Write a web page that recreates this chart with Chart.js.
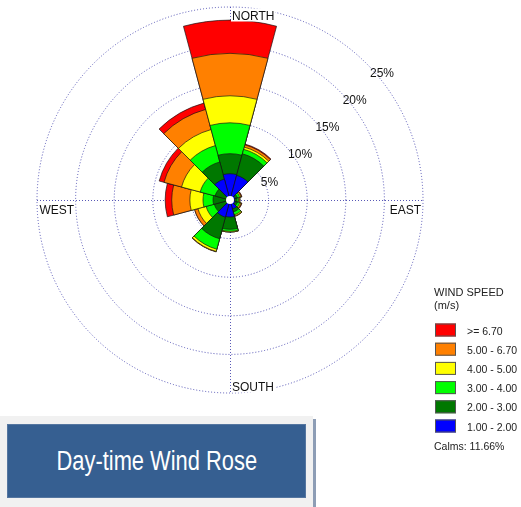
<!DOCTYPE html>
<html>
<head>
<meta charset="utf-8">
<script src="https://cdn.jsdelivr.net/npm/chart.js@4.4.1/dist/chart.umd.min.js"></script>
<style>
  html, body { margin: 0; padding: 0; background: #ffffff; }
  #wrap { position: relative; width: 521px; height: 507px; overflow: hidden; }
  #rose { position: absolute; left: 0; top: 0; }
  #titleOuter {
    position: absolute; left: 0; top: 416px; width: 313px; height: 95px;
    background: #f1f1f1; box-shadow: 3px 3px 0 #8d9db5;
  }
  #titleInner {
    position: absolute; left: 7px; top: 8px; width: 299px; height: 74px;
    background: #365f91; border: 1px solid #5576a0; box-sizing: border-box;
    display: flex; align-items: center; justify-content: center;
  }
  #titleInner span {
    display: inline-block; color: #ffffff; font-size: 27px;
    font-family: 'Liberation Sans', Arial, sans-serif;
    transform: scaleX(0.81); white-space: nowrap;
  }
</style>
</head>
<body>
<div id="wrap">
  <canvas id="rose" width="521" height="507"></canvas>
  <div id="titleOuter"><div id="titleInner"><span>Day-time Wind Rose</span></div></div>
</div>
<script>
// Direction sectors (degrees clockwise from north), 30° wide
const sectors = ['0°', '30°', '60°', '90°', '120°', '150°', '180°', '210°', '240°', '270°', '300°', '330°'];

// Frequency (%) of each wind speed class per sector
const speed_1_2   = [3.4, 3.3, 0.7, 0.6, 0.7, 1.2, 2.2, 2.3, 0.4, 0.4, 0.4, 2.8];
const speed_2_3   = [2.6, 2.9, 0.3, 0.3, 0.3, 0.4, 1.6, 2.9, 1.7, 1.8, 1.6, 2.3];
const speed_3_4   = [4.0, 0.6, 0.3, 0.2, 0.3, 0.4, 0.25, 1.4, 1.1, 1.3, 2.0, 2.2];
const speed_4_5   = [3.5, 0.3, 0.15, 0.1, 0.15, 0.15, 0.1, 0.3, 1.1, 1.7, 2.5, 2.15];
const speed_5_67  = [5.5, 0.3, 0.1, 0.1, 0.1, 0.05, 0.0, 0.05, 0.45, 2.35, 2.35, 2.7];
const speed_67_up = [4.3, 0.1, 0.05, 0.0, 0.05, 0.0, 0.0, 0.0, 0.0, 0.85, 0.65, 0.85];

const classLabels = ['1.00 - 2.00', '2.00 - 3.00', '3.00 - 4.00', '4.00 - 5.00', '5.00 - 6.70', '>= 6.70'];
const classColors = ['#0000ff', '#007800', '#00ff00', '#ffff00', '#ff8000', '#ff0000'];
const classSeries = [speed_1_2, speed_2_3, speed_3_4, speed_4_5, speed_5_67, speed_67_up];

// Ring values of the radial axis (%)
const ringTicks = [5, 10, 15, 20, 25];
const ringMax = 25;
const calmsPct = 11.66;
const compassLabels = ['NORTH', 'EAST', 'SOUTH', 'WEST'];

// Stack speed classes: each layer is drawn out to the running total
const running = sectors.map(() => 0);
const datasets = classSeries.map((series, i) => {
  const cum = series.map((v, k) => (running[k] += v, +running[k].toFixed(3)));
  return {
    label: classLabels[i],
    data: cum,
    backgroundColor: classColors[i],
    borderColor: 'rgba(20,20,20,0.85)',
    borderWidth: 0.8
  };
});

const FONT = "'Liberation Sans', Arial, sans-serif";
const gridColor = 'rgba(60,60,170,0.85)';

const roseDecor = {
  id: 'roseDecor',
  beforeDatasetsDraw(chart) {
    const r = chart.scales.r;
    const ctx = chart.ctx;
    const R = r.getDistanceFromCenterForValue(ringMax);
    ctx.save();
    ctx.strokeStyle = gridColor;
    ctx.lineWidth = 1;
    ctx.setLineDash([1, 2]);
    ctx.beginPath();
    ctx.moveTo(r.xCenter - R, r.yCenter + 0.5);
    ctx.lineTo(r.xCenter + R, r.yCenter + 0.5);
    ctx.moveTo(r.xCenter + 0.5, r.yCenter - R);
    ctx.lineTo(r.xCenter + 0.5, r.yCenter + R);
    ctx.stroke();
    ctx.restore();
  },
  afterDatasetsDraw(chart) {
    const r = chart.scales.r;
    const ctx = chart.ctx;
    const cx = r.xCenter, cy = r.yCenter;
    const R = r.getDistanceFromCenterForValue(ringMax);
    ctx.save();

    // calm centre
    ctx.fillStyle = '#ffffff';
    ctx.beginPath();
    ctx.arc(cx, cy, 4, 0, Math.PI * 2);
    ctx.fill();

    // ring percentages along the north-east diagonal
    ctx.font = '12px ' + FONT;
    ctx.fillStyle = '#111111';
    ctx.textAlign = 'left';
    ctx.textBaseline = 'alphabetic';
    ringTicks.forEach(v => {
      const d = r.getDistanceFromCenterForValue(v) * Math.SQRT1_2;
      ctx.fillText(v + '%', cx + d + 3.5, cy - d + 13);
    });

    // compass labels on white boxes
    const place = {
      NORTH: [cx + 2, cy - R + 12.5, 'left'],
      SOUTH: [cx + 2, cy + R - 2.5, 'left'],
      WEST:  [cx - R + 2.5, cy + 13.5, 'left'],
      EAST:  [cx + R - 2, cy + 13.5, 'right']
    };
    compassLabels.forEach(t => {
      const w = ctx.measureText(t).width;
      const [x, y, align] = place[t];
      const left = align === 'left' ? x : x - w;
      ctx.fillStyle = '#ffffff';
      ctx.fillRect(left - 1, y - 11, w + 2, 13);
      ctx.fillStyle = '#111111';
      ctx.textAlign = align;
      ctx.fillText(t, x, y);
    });

    // speed legend
    ctx.textAlign = 'left';
    ctx.fillStyle = '#222222';
    ctx.font = '11px ' + FONT;
    ctx.fillText('WIND SPEED', 434, 296);
    ctx.fillText('(m/s)', 434, 309);
    ctx.font = '10.5px ' + FONT;
    for (let i = classLabels.length - 1, row = 0; i >= 0; i--, row++) {
      const y = 323.5 + row * 19.2;
      ctx.fillStyle = classColors[i];
      ctx.fillRect(435, y, 21, 13);
      ctx.strokeStyle = '#555555';
      ctx.lineWidth = 1;
      ctx.strokeRect(435.5, y + 0.5, 20, 12);
      ctx.fillStyle = '#222222';
      ctx.fillText(classLabels[i], 467, y + 11);
    }
    ctx.fillText('Calms: ' + calmsPct.toFixed(2) + '%', 434, 450);
    ctx.restore();
  }
};

new Chart(document.getElementById('rose'), {
  type: 'polarArea',
  data: { labels: sectors, datasets },
  options: {
    responsive: false,
    animation: false,
    events: [],
    layout: { padding: { left: 37, top: 7, right: 97, bottom: 113 } },
    plugins: { legend: { display: false }, tooltip: { enabled: false } },
    scales: {
      r: {
        min: 0,
        max: ringMax,
        startAngle: -15,
        ticks: { display: false, stepSize: 5 },
        angleLines: { display: false },
        pointLabels: { display: false },
        grid: { circular: true, color: gridColor, lineWidth: 1 },
        border: { dash: [1, 2] }
      }
    }
  },
  plugins: [roseDecor]
});
</script>
</body>
</html>
